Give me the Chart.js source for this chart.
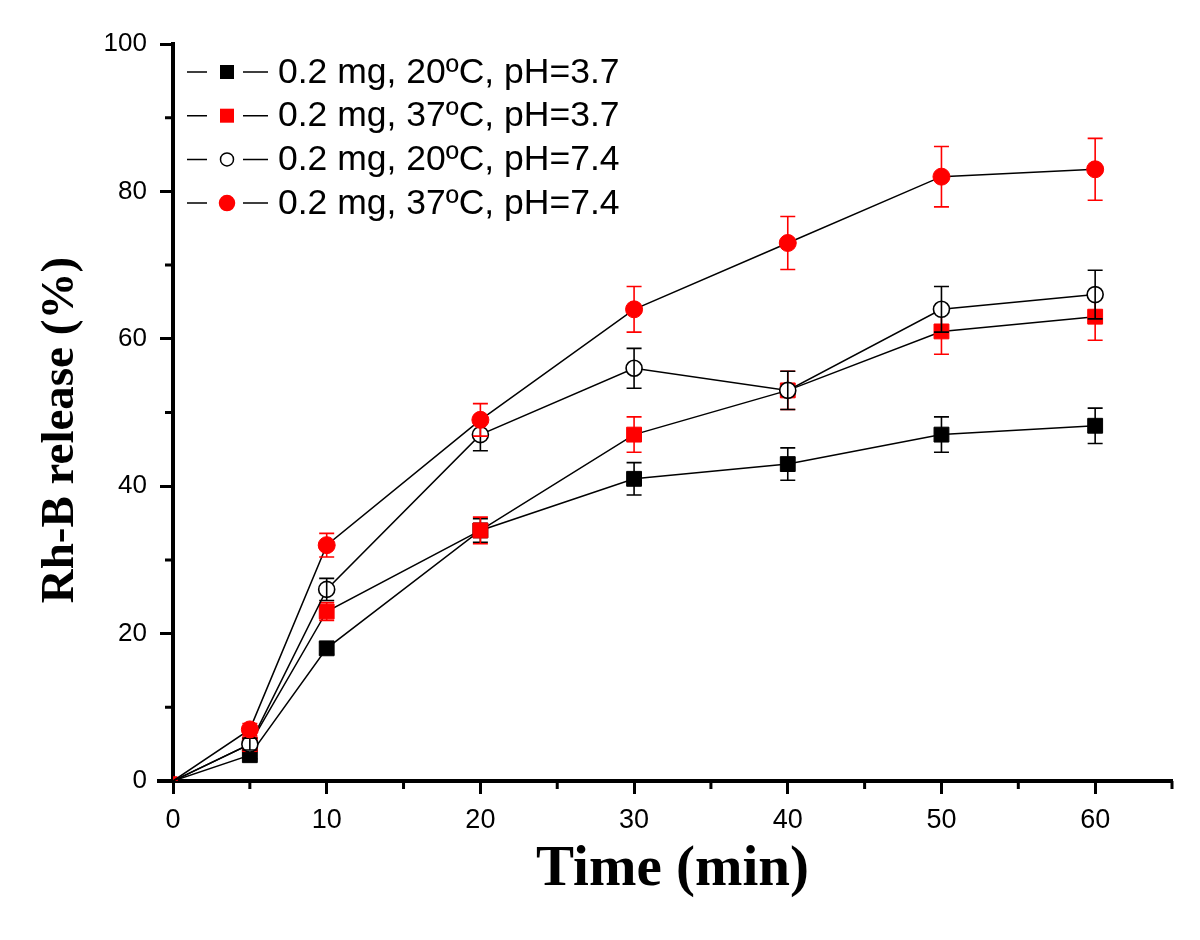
<!DOCTYPE html>
<html>
<head>
<meta charset="utf-8">
<script src="https://cdn.jsdelivr.net/npm/chart.js@4/dist/chart.umd.min.js"></script>
<style>
html,body{margin:0;padding:0;background:#fff}
#wrap{width:1200px;height:940px}
</style>
</head>
<body>
<div id="wrap"><canvas id="c" width="1200" height="940"></canvas></div>
<script>
// data
const times=[0,5,10,20,30,40,50,60];
const names=['0.2 mg, 20ºC, pH=3.7','0.2 mg, 37ºC, pH=3.7','0.2 mg, 20ºC, pH=7.4','0.2 mg, 37ºC, pH=7.4'];
const blackSq=[0,3.5,18,34,41,43,47,48.2];
const redSq=[0,5,23,34,47,53,61,63];
const openCirc=[0,5,26,47,56,53,64,66];
const redCirc=[0,7,32,49,64,73,82,83];
const errBlackSq=[0,0.5,0.8,1.6,2.2,2.2,2.4,2.4];
const errRedSq=[0,0.8,1.2,1.8,2.4,2.6,3.1,3.2];
const errOpenCirc=[0,0.8,1.5,2.2,2.7,2.6,3.1,3.3];
const errRedCirc=[0,0.8,1.6,2.2,3.1,3.6,4.1,4.2];
const xTicks=[0,10,20,30,40,50,60];
const xMinor=[5,15,25,35,45,55,65];
const yTicks=[0,20,40,60,80,100];
const yMinor=[10,30,50,70,90];

const RED='#ff0000';
const pts=(arr)=>arr.map((v,i)=>({x:times[i],y:v}));

const sets=[
  {data:blackSq,err:errBlackSq,style:'rect',fill:'#000',edge:'#000',ecol:'#000',r:10.5,r0:0},
  {data:redSq,err:errRedSq,style:'rect',fill:RED,edge:RED,ecol:RED,r:10.5,r0:6},
  {data:openCirc,err:errOpenCirc,style:'circle',fill:'#fff',edge:'#000',ecol:'#000',r:8,r0:0},
  {data:redCirc,err:errRedCirc,style:'circle',fill:RED,edge:RED,ecol:RED,r:8.5,r0:0}
];

// error bars + minor ticks + legend
const extras={
  id:'extras',
  afterDatasetDraw(chart,args){
    const s=sets[args.index];
    const ctx=chart.ctx, y=chart.scales.y, x=chart.scales.x;
    ctx.save();
    ctx.strokeStyle=s.ecol; ctx.lineWidth=1.6;
    s.data.forEach((v,j)=>{
      if(!s.err[j]) return;
      const px=x.getPixelForValue(times[j]);
      const top=y.getPixelForValue(v+s.err[j]), bot=y.getPixelForValue(v-s.err[j]);
      ctx.beginPath();
      ctx.moveTo(px,top);ctx.lineTo(px,bot);
      ctx.moveTo(px-7.5,top);ctx.lineTo(px+7.5,top);
      ctx.moveTo(px-7.5,bot);ctx.lineTo(px+7.5,bot);
      ctx.stroke();
    });
    ctx.restore();
  },
  afterDraw(chart){
    const ctx=chart.ctx, a=chart.chartArea, x=chart.scales.x, y=chart.scales.y;
    ctx.save();
    ctx.strokeStyle='#000'; ctx.lineWidth=3;
    ctx.beginPath();
    xMinor.forEach(v=>{const p=x.getPixelForValue(v);ctx.moveTo(p,a.bottom);ctx.lineTo(p,a.bottom+8);});
    yMinor.forEach(v=>{const p=y.getPixelForValue(v);ctx.moveTo(a.left,p);ctx.lineTo(a.left-8,p);});
    ctx.stroke();
    // axis overhang to the left
    ctx.lineWidth=4;
    ctx.beginPath();ctx.moveTo(a.left-16,a.bottom);ctx.lineTo(a.left,a.bottom);ctx.stroke();
    // legend
    ctx.font='35.5px "Liberation Sans", Arial, sans-serif';
    ctx.textBaseline='middle';
    sets.forEach((s,i)=>{
      const cy=a.top+28+i*43.7, lx=a.left+14;
      ctx.strokeStyle='#000'; ctx.lineWidth=1.5;
      ctx.beginPath();
      ctx.moveTo(lx,cy);ctx.lineTo(lx+20,cy);
      ctx.moveTo(lx+56,cy);ctx.lineTo(lx+81,cy);
      ctx.stroke();
      const mx=lx+40;
      ctx.fillStyle=s.fill; ctx.strokeStyle=s.edge; ctx.lineWidth=1.5;
      if(s.style==='rect'){
        ctx.fillRect(mx-7,cy-7,14,14);
      }else{
        ctx.beginPath();ctx.arc(mx,cy,s.fill==='#fff'?6.5:7.5,0,Math.PI*2);ctx.fill();ctx.stroke();
      }
      ctx.fillStyle='#000';
      ctx.fillText(names[i],lx+91,cy+1);
    });
    ctx.restore();
  }
};

new Chart(document.getElementById('c'),{
  type:'line',
  data:{datasets:sets.map((s,i)=>({
    label:names[i],
    data:pts(s.data),
    borderColor:'#000',borderWidth:1.5,
    pointStyle:s.style,
    pointBackgroundColor:s.fill,
    pointBorderColor:s.edge,
    pointBorderWidth:s.fill==='#fff'?1.6:1,
    pointRadius:s.data.map((v,j)=>j===0?s.r0:s.r),
    tension:0,fill:false,
    order:3-i
  }))},
  options:{
    responsive:false,animation:false,devicePixelRatio:1,
    layout:{padding:{top:44,right:28,left:0,bottom:0}},
    plugins:{legend:{display:false},tooltip:{enabled:false}},
    scales:{
      x:{type:'linear',min:0,max:65,
        afterBuildTicks:s=>{s.ticks=xTicks.map(v=>({value:v}));},
        afterFit:s=>{s.height=159;},
        grid:{drawOnChartArea:false,drawTicks:true,tickLength:13,tickWidth:3,tickColor:'#000'},
        border:{display:true,color:'#000',width:4},
        ticks:{color:'#000',padding:10,maxRotation:0,font:{family:'"Liberation Sans", Arial, sans-serif',size:27}},
        title:{display:true,text:'Time (min)',color:'#000',padding:{top:0,bottom:36},font:{family:'"Liberation Serif", "Times New Roman", serif',size:57,weight:'bold'}}
      },
      y:{min:0,max:100,
        afterBuildTicks:s=>{s.ticks=yTicks.map(v=>({value:v}));},
        afterFit:s=>{s.width=173;},
        grid:{drawOnChartArea:false,drawTicks:true,tickLength:13,tickWidth:3,tickColor:'#000'},
        border:{display:true,color:'#000',width:4},
        ticks:{color:'#000',padding:13,font:{family:'"Liberation Sans", Arial, sans-serif',size:26}},
        title:{display:true,text:'Rh-B release (%)\u2002 ',color:'#000',padding:{top:33,bottom:0},font:{family:'"Liberation Serif", "Times New Roman", serif',size:47,weight:'bold'}}
      }
    }
  },
  plugins:[extras]
});
</script>
</body>
</html>
